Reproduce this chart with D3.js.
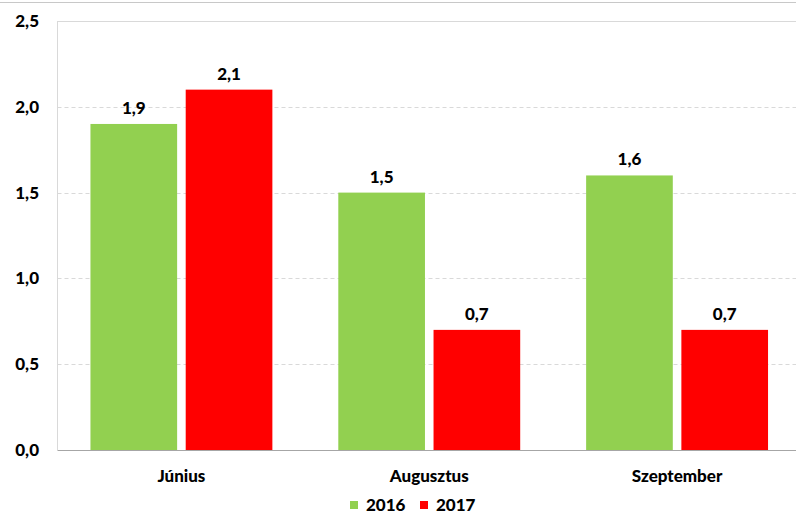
<!DOCTYPE html>
<html>
<head>
<meta charset="utf-8">
<script src="https://cdn.jsdelivr.net/npm/d3@7"></script>
<style>
  html, body { margin: 0; padding: 0; background: #fff; }
  svg { display: block; }
  text { font-family: Lato, "Open Sans", "DejaVu Sans", sans-serif; font-weight: 900; fill: #000; }
</style>
</head>
<body>
<svg id="chart" width="796" height="517"></svg>
<script>
const categories = ["Június", "Augusztus", "Szeptember"];
const seriesNames = ["2016", "2017"];
const values2016 = [1.9, 1.5, 1.6];
const values2017 = [2.1, 0.7, 0.7];
const yTicks = [0, 0.5, 1.0, 1.5, 2.0, 2.5];
const colors = ["#92d050", "#ff0000"];

const svg = d3.select("#chart");
const W = 796, H = 517;
const m = { left: 57.5, right: -5, top: 21, bottom: 67 };
const fs = 17;
const fmt = v => d3.format(".1f")(v).replace(".", ",");

// frame line along the top
svg.append("line").attr("x1", 0).attr("x2", W).attr("y1", 2.5).attr("y2", 2.5)
  .attr("stroke", "#c8c8c8").attr("stroke-width", 1);

const x0 = d3.scaleBand().domain(categories).range([m.left, W - m.right]).paddingInner(0.266).paddingOuter(0.133);
const x1 = d3.scaleBand().domain(seriesNames).range([0, x0.bandwidth()]).paddingInner(0.09);
const y = d3.scaleLinear().domain([0, 2.5]).range([H - m.bottom, m.top]);

// gridlines
svg.append("g").selectAll("line").data(yTicks.filter(t => t > 0)).join("line")
  .attr("x1", m.left).attr("x2", W)
  .attr("y1", d => Math.round(y(d)) + 0.5).attr("y2", d => Math.round(y(d)) + 0.5)
  .attr("stroke", "#d9d9d9").attr("stroke-width", 1)
  .attr("stroke-dasharray", d => d === 2.5 ? null : "4,3");

// left axis line
svg.append("line").attr("x1", m.left).attr("x2", m.left)
  .attr("y1", y(2.5)).attr("y2", y(0)).attr("stroke", "#d9d9d9");

// y tick labels
svg.append("g").selectAll("text").data(yTicks).join("text")
  .attr("x", 39).attr("y", d => y(d)).attr("dy", "0.35em")
  .attr("text-anchor", "end").attr("font-size", fs).text(d => fmt(d));

// bars
const rows = categories.map((c, i) => ({ c, vals: [values2016[i], values2017[i]] }));
const groups = svg.append("g").selectAll("g").data(rows).join("g")
  .attr("transform", d => `translate(${x0(d.c)},0)`);
groups.selectAll("rect").data(d => d.vals.map((v, j) => ({ s: seriesNames[j], v, j }))).join("rect")
  .attr("x", d => x1(d.s)).attr("width", x1.bandwidth())
  .attr("y", d => y(d.v)).attr("height", d => y(0) - y(d.v))
  .attr("fill", d => colors[d.j]);
groups.selectAll("text").data(d => d.vals.map((v, j) => ({ s: seriesNames[j], v, j }))).join("text")
  .attr("x", d => x1(d.s) + x1.bandwidth() / 2).attr("y", d => y(d.v) - 10)
  .attr("text-anchor", "middle").attr("font-size", fs).text(d => fmt(d.v));

// bottom axis line
svg.append("line").attr("x1", m.left).attr("x2", W)
  .attr("y1", y(0) + 0.5).attr("y2", y(0) + 0.5).attr("stroke", "#a6a6a6");

// category labels
svg.append("g").selectAll("text").data(categories).join("text")
  .attr("x", d => x0(d) + x0.bandwidth() / 2).attr("y", 482)
  .attr("text-anchor", "middle").attr("font-size", fs).text(d => d);

// legend
const legend = svg.append("g");
const legendX = [350, 420];
seriesNames.forEach((s, i) => {
  legend.append("rect").attr("x", legendX[i]).attr("y", 501).attr("width", 8).attr("height", 8).attr("fill", colors[i]);
  legend.append("text").attr("x", legendX[i] + 16).attr("y", 511).attr("font-size", fs).text(s);
});
</script>
</body>
</html>
